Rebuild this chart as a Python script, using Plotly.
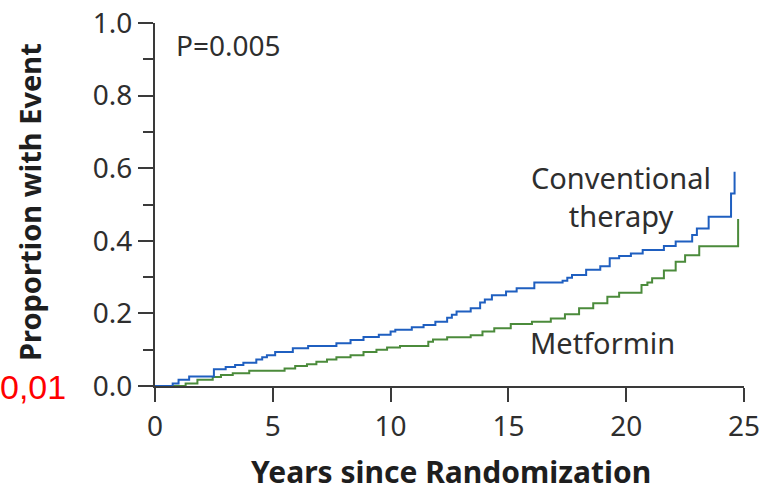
import plotly.graph_objects as go

# Cumulative incidence step points (years, proportion)
conv_years = [0, 0.75, 1.0, 1.45, 2.5, 3.0, 3.4, 3.75, 4.3, 4.55, 4.75, 5.1, 5.85, 6.5,
              7.7, 8.3, 8.85, 9.5, 10.0, 10.2, 10.9, 11.4, 11.9, 12.4, 12.6, 12.8, 13.4,
              13.8, 14.0, 14.3, 14.9, 15.35, 16.1, 17.3, 17.5, 17.7, 18.3, 18.9, 19.3,
              19.7, 20.2, 20.7, 21.6, 22.1, 22.8, 23.0, 23.5, 24.45, 24.6]
conv_prop = [0, 0.007, 0.017, 0.026, 0.046, 0.052, 0.058, 0.064, 0.073, 0.079, 0.085,
             0.094, 0.104, 0.110, 0.118, 0.127, 0.135, 0.141, 0.150, 0.155, 0.162, 0.168,
             0.177, 0.188, 0.196, 0.205, 0.214, 0.230, 0.238, 0.250, 0.260, 0.269, 0.285,
             0.290, 0.298, 0.306, 0.320, 0.330, 0.352, 0.358, 0.365, 0.375, 0.386, 0.398,
             0.416, 0.434, 0.466, 0.530, 0.590]

met_years = [0, 1.3, 1.8, 2.45, 2.8, 3.3, 4.0, 5.5, 5.95, 6.45, 6.85, 7.3, 7.7, 8.3, 8.85,
             9.4, 9.85, 10.4, 11.6, 11.8, 12.4, 13.4, 13.9, 14.4, 15.1, 16.0, 16.8, 17.4,
             18.0, 18.6, 19.2, 19.7, 20.65, 20.9, 21.1, 21.6, 22.1, 22.5, 23.1, 24.75]
met_prop = [0, 0.007, 0.017, 0.025, 0.030, 0.035, 0.042, 0.048, 0.055, 0.060, 0.067,
            0.073, 0.079, 0.085, 0.094, 0.100, 0.106, 0.110, 0.122, 0.128, 0.134, 0.140,
            0.150, 0.159, 0.171, 0.177, 0.186, 0.198, 0.214, 0.228, 0.246, 0.257, 0.278,
            0.285, 0.297, 0.318, 0.342, 0.360, 0.385, 0.460]

x_ticks = [0, 5, 10, 15, 20, 25]
y_ticks = [0.0, 0.2, 0.4, 0.6, 0.8, 1.0]

FONT = "Noto Sans"
AXIS = "#3a3a3a"
TXT = "#2e2e2e"

fig = go.Figure()
fig.add_trace(go.Scatter(x=met_years, y=met_prop, mode="lines", line_shape="hv",
                         line=dict(color="#4b8b3b", width=2), name="Metformin"))
fig.add_trace(go.Scatter(x=conv_years, y=conv_prop, mode="lines", line_shape="hv",
                         line=dict(color="#1f5fc0", width=2), name="Conventional therapy"))

fig.update_layout(
    width=761, height=492,
    margin=dict(l=155, r=17, t=23, b=106),
    paper_bgcolor="white", plot_bgcolor="white",
    showlegend=False,
    font=dict(family=FONT, size=28, color=TXT),
)
fig.update_xaxes(
    range=[0, 25], tickvals=x_ticks, ticktext=[str(v) for v in x_ticks],
    showline=True, linecolor=AXIS, linewidth=2, automargin=False,
    ticks="outside", ticklen=14, tickwidth=2, tickcolor=AXIS,
    showgrid=False, zeroline=False,
    tickfont=dict(family=FONT, size=28, color=TXT),
)
fig.update_yaxes(
    range=[0, 1], tickvals=y_ticks, ticktext=[f"{v:.1f}" for v in y_ticks],
    showline=True, linecolor=AXIS, linewidth=2, automargin=False,
    ticks="outside", ticklen=15, tickwidth=2, tickcolor=AXIS,
    minor=dict(ticks="outside", ticklen=10, tickwidth=2, tickcolor=AXIS, dtick=0.1),
    showgrid=False, zeroline=False,
    tickfont=dict(family=FONT, size=28, color=TXT),
)

ann = [
    dict(text="<b>Years since Randomization</b>", xref="paper", yref="paper",
         x=0.5025, y=-0.2369, xanchor="center", yanchor="middle",
         font=dict(family=FONT, size=30, color="#1e1e1e")),
    dict(text="<b>Proportion with Event</b>", xref="paper", yref="paper",
         x=-0.2122, y=0.507, xanchor="center", yanchor="middle", textangle=-90,
         font=dict(family=FONT, size=29, color="#1e1e1e")),
    dict(text="P=0.005", xref="x", yref="y", x=0.8, y=0.94,
         xanchor="left", yanchor="middle", font=dict(family=FONT, size=28, color=TXT)),
    dict(text="Conventional<br>therapy", xref="x", yref="y", x=19.8, y=0.523,
         xanchor="center", yanchor="middle", align="center",
         font=dict(family=FONT, size=29, color=TXT)),
    dict(text="Metformin", xref="x", yref="y", x=19.0, y=0.121,
         xanchor="center", yanchor="middle", font=dict(family=FONT, size=29, color=TXT)),
    dict(text="0,01", xref="paper", yref="paper", x=-0.2666, y=-0.003,
         xanchor="left", yanchor="middle",
         font=dict(family="Liberation Sans", size=34, color="#ff0000")),
]
for a in ann:
    a["showarrow"] = False
fig.update_layout(annotations=ann)

fig.write_html("out.html")
